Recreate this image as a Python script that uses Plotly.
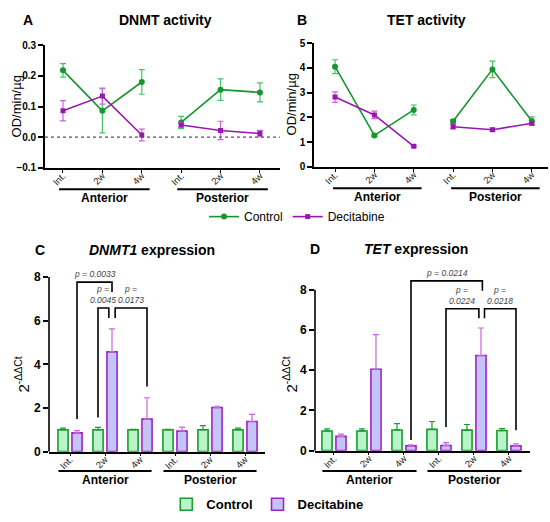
import plotly.graph_objects as go

W, H = 550, 522
GREEN = "#16962f"
PURPLE = "#9a16b2"
GREEN_ERR = "#45c263"
PURPLE_ERR = "#c865dc"
CTRL_FILL = "#b8f5c8"
CTRL_EDGE = "#1c9a32"
DEC_FILL = "#c4c4f8"
DEC_EDGE = "#a024c4"
FONT = "Liberation Sans"

timepoints = ["Int.", "2w", "4w", "Int.", "2w", "4w"]
regions = ["Anterior", "Posterior"]
positions = [0, 1, 2, 3, 4, 5]

# A: DNMT activity (OD/min/ug), mean and SEM
dnmt_ctrl = [0.218, 0.086, 0.180, 0.048, 0.155, 0.146]
dnmt_ctrl_err = [0.022, 0.072, 0.040, 0.020, 0.035, 0.031]
dnmt_dec = [0.086, 0.134, 0.007, 0.040, 0.022, 0.012]
dnmt_dec_err = [0.033, 0.026, 0.019, 0.007, 0.030, 0.010]

# B: TET activity (OD/min/ug)
tet_ctrl = [4.05, 1.27, 2.30, 1.84, 3.94, 1.85]
tet_ctrl_err = [0.28, 0.05, 0.20, 0.07, 0.33, 0.17]
tet_dec = [2.82, 2.10, 0.83, 1.62, 1.50, 1.76]
tet_dec_err = [0.21, 0.15, 0.03, 0.09, 0.07, 0.07]

# C: DNMT1 expression (2^-ddCt)
dnmt1_ctrl = [1.0, 1.0, 1.0, 1.0, 1.0, 1.0]
dnmt1_ctrl_err = [0.08, 0.11, 0.02, 0.02, 0.19, 0.08]
dnmt1_dec = [0.86, 4.57, 1.49, 0.94, 2.02, 1.38]
dnmt1_dec_err = [0.10, 1.06, 0.98, 0.18, 0.06, 0.33]

# D: TET expression (2^-ddCt)
tetx_ctrl = [0.98, 0.98, 1.03, 1.06, 1.02, 1.00]
tetx_ctrl_err = [0.10, 0.10, 0.31, 0.39, 0.28, 0.10]
tetx_dec = [0.71, 4.05, 0.24, 0.26, 4.73, 0.24]
tetx_dec_err = [0.11, 1.72, 0.05, 0.14, 1.37, 0.10]

# significance brackets: x left, x right, top, left leg end, right leg end, label
brackets_c = [
    (0.2, 1.2, 7.77, 1.50, 7.32, "p = 0.0033"),
    (0.8, 1.11, 6.58, 1.57, 6.13, "p =<br>0.0045"),
    (1.29, 2.2, 6.58, 6.13, 2.99, "p =<br>0.0173"),
]
brackets_d = [
    (2.2, 4.24, 8.44, 0.53, 7.95, "p = 0.0214"),
    (3.2, 4.14, 7.06, 1.18, 6.58, "p =<br>0.0224"),
    (4.3, 5.2, 7.06, 6.58, 1.02, "p =<br>0.0218"),
]


def split(vals):
    # break the line between anterior and posterior
    return list(vals[:3]) + [None] + list(vals[3:])


fig = go.Figure()

# line panels
for xa, ya, ctrl, ctrl_e, dec, dec_e, show in [
    ("x", "y", dnmt_ctrl, dnmt_ctrl_err, dnmt_dec, dnmt_dec_err, True),
    ("x2", "y2", tet_ctrl, tet_ctrl_err, tet_dec, tet_dec_err, False),
]:
    fig.add_trace(go.Scatter(
        x=split(positions), y=split(ctrl), xaxis=xa, yaxis=ya,
        mode="lines+markers", name="Control", showlegend=show, legend="legend",
        line=dict(color=GREEN, width=1.6), marker=dict(color=GREEN, size=6),
        error_y=dict(type="data", array=split(ctrl_e), color=GREEN_ERR, thickness=1.2, width=3)))
    fig.add_trace(go.Scatter(
        x=split(positions), y=split(dec), xaxis=xa, yaxis=ya,
        mode="lines+markers", name="Decitabine", showlegend=show, legend="legend",
        line=dict(color=PURPLE, width=1.6), marker=dict(color=PURPLE, size=5, symbol="square"),
        error_y=dict(type="data", array=split(dec_e), color=PURPLE_ERR, thickness=1.2, width=3)))

# bar panels
for xa, ya, ctrl, ctrl_e, dec, dec_e, show in [
    ("x3", "y3", dnmt1_ctrl, dnmt1_ctrl_err, dnmt1_dec, dnmt1_dec_err, True),
    ("x4", "y4", tetx_ctrl, tetx_ctrl_err, tetx_dec, tetx_dec_err, False),
]:
    fig.add_trace(go.Bar(
        x=positions, y=ctrl, xaxis=xa, yaxis=ya, name="Control",
        showlegend=show, legend="legend2",
        marker=dict(color=CTRL_FILL, line=dict(color=CTRL_EDGE, width=1.6)),
        error_y=dict(type="data", array=ctrl_e, arrayminus=[0] * 6, symmetric=False,
                     color=CTRL_EDGE, thickness=1.2, width=3)))
    fig.add_trace(go.Bar(
        x=positions, y=dec, xaxis=xa, yaxis=ya, name="Decitabine",
        showlegend=show, legend="legend2",
        marker=dict(color=DEC_FILL, line=dict(color=DEC_EDGE, width=1.6)),
        error_y=dict(type="data", array=dec_e, arrayminus=[0] * 6, symmetric=False,
                     color=PURPLE_ERR, thickness=1.2, width=3)))

xcommon = dict(tickvals=positions, ticktext=timepoints, tickangle=-45,
               ticks="outside", ticklen=3, tickwidth=1.2, tickcolor="black",
               showline=True, linecolor="black", linewidth=1.6,
               showgrid=False, zeroline=False, ticklabelstandoff=-6,
               tickfont=dict(family=FONT, size=9.5, color="#222"))
ycommon = dict(ticks="outside", ticklen=5, tickwidth=1.5, tickcolor="black",
               showline=True, linecolor="black", linewidth=1.6,
               showgrid=False, zeroline=False,
               tickfont=dict(family=FONT, size=10, color="black", weight="bold"))

fig.update_layout(
    width=W, height=H, margin=dict(l=0, r=0, t=0, b=0),
    plot_bgcolor="white", paper_bgcolor="white",
    font=dict(family=FONT, color="black"),
    barmode="group", bargap=0.2, bargroupgap=0.275,
    xaxis=dict(xcommon, domain=[0.0818, 0.509], range=[-0.457, 5.508], anchor="y"),
    yaxis=dict(ycommon, domain=[0.682, 0.923], range=[-0.1, 0.3],
               tickvals=[-0.1, 0, 0.1, 0.2, 0.3], tickformat=".1f", anchor="x"),
    xaxis2=dict(xcommon, domain=[0.571, 0.996], range=[-0.533, 5.406], anchor="y2"),
    yaxis2=dict(ycommon, domain=[0.684, 0.927], range=[0, 5],
                tickvals=[0, 1, 2, 3, 4, 5], anchor="x2"),
    xaxis3=dict(xcommon, domain=[0.0891, 0.4818], range=[-0.6, 5.571], anchor="y3"),
    yaxis3=dict(ycommon, domain=[0.1245, 0.5103], range=[0, 9], showline=False,
                tickvals=[0, 2, 4, 6, 8], anchor="x3",
                tickfont=dict(family=FONT, size=12, color="black", weight="bold")),
    xaxis4=dict(xcommon, domain=[0.5727, 0.9636], range=[-0.543, 5.6], anchor="y4"),
    yaxis4=dict(ycommon, domain=[0.1264, 0.482], range=[0, 9], showline=False,
                tickvals=[0, 2, 4, 6, 8], anchor="x4",
                tickfont=dict(family=FONT, size=12, color="black", weight="bold")),
    legend=dict(orientation="h", x=0.54, y=1 - 216 / H, xanchor="center", yanchor="middle",
                font=dict(family=FONT, size=12), itemwidth=30, bgcolor="rgba(0,0,0,0)"),
    legend2=dict(orientation="h", x=0.486, y=1 - 511 / H, xanchor="center", yanchor="middle",
                 font=dict(family=FONT, size=13, weight="bold"), bgcolor="rgba(0,0,0,0)"),
)

# dotted zero line in A
fig.add_shape(type="line", xref="paper", yref="y", x0=0.0818, x1=0.509, y0=0, y1=0,
              line=dict(color="#555", width=1.3, dash="dot"))

# y axis lines for bar panels (0 to 8 only)
for xd, ya in [(0.0891, "y3"), (0.5727, "y4")]:
    fig.add_shape(type="line", xref="paper", yref=ya, x0=xd, x1=xd, y0=0, y1=8,
                  line=dict(color="black", width=1.6))

# region underlines and labels
for xa, lo, hi, y_line, y_text in [
    ("x", -0.1, 0.2, 188, 197), ("x2", -0.05, 0.2, 187, 196),
    ("x3", -0.33, 0.33, 477, 486), ("x4", -0.33, 0.36, 477, 486),
]:
    for k, region in enumerate(regions):
        x0 = positions[3 * k] + lo
        x1 = positions[3 * k + 2] + hi
        fig.add_shape(type="line", xref=xa, yref="paper", x0=x0, x1=x1,
                      y0=1 - y_line / H, y1=1 - y_line / H,
                      line=dict(color="black", width=2))
        fig.add_annotation(x=(x0 + x1) / 2, y=1 - y_text / H, xref=xa, yref="paper",
                           text="<b>%s</b>" % region, showarrow=False,
                           font=dict(family=FONT, size=12), yanchor="middle")

# significance brackets
for xa, ya, brackets in [("x3", "y3", brackets_c), ("x4", "y4", brackets_d)]:
    for xl, xr, top, yl, yr, label in brackets:
        fig.add_shape(type="path", xref=xa, yref=ya,
                      path="M %g,%g L %g,%g L %g,%g L %g,%g" % (xl, yl, xl, top, xr, top, xr, yr),
                      line=dict(color="black", width=1.6))
        fig.add_annotation(x=(xl + xr) / 2, y=top, xref=xa, yref=ya, text="<i>%s</i>" % label,
                           showarrow=False, yanchor="bottom", yshift=1,
                           font=dict(family=FONT, size=8.5, color="#444"))

# panel letters and titles
for letter, lx, title, tx, ty in [
    ("A", 28, "DNMT activity", 165, 14),
    ("B", 302, "TET activity", 426, 14),
    ("C", 40, "<i>DNMT1</i> expression", 152, 250),
    ("D", 315, "<i>TET</i> expression", 416, 249),
]:
    fig.add_annotation(x=lx / W, y=1 - ty / H, xref="paper", yref="paper",
                       text="<b>%s</b>" % letter, showarrow=False,
                       font=dict(family=FONT, size=14), xanchor="center", yanchor="middle")
    fig.add_annotation(x=tx / W, y=1 - ty / H, xref="paper", yref="paper",
                       text="<b>%s</b>" % title, showarrow=False,
                       font=dict(family=FONT, size=14), xanchor="center", yanchor="middle")

# axis titles
for text, ax_x, ax_y, size in [
    ("OD/min/µg", 16, 103, 13), ("OD/min/µg", 291, 101, 13),
    ("2<sup>-ΔΔCt</sup>", 22, 378, 15), ("2<sup>-ΔΔCt</sup>", 290, 378, 15),
]:
    fig.add_annotation(x=ax_x / W, y=1 - ax_y / H, xref="paper", yref="paper", text=text,
                       textangle=-90, showarrow=False, font=dict(family=FONT, size=size),
                       xanchor="center", yanchor="middle")

# drop the default page margin so the figure sits at the window corner
fig.write_html("out.html", config={"displayModeBar": False},
               post_script="document.body.style.margin='0';")
